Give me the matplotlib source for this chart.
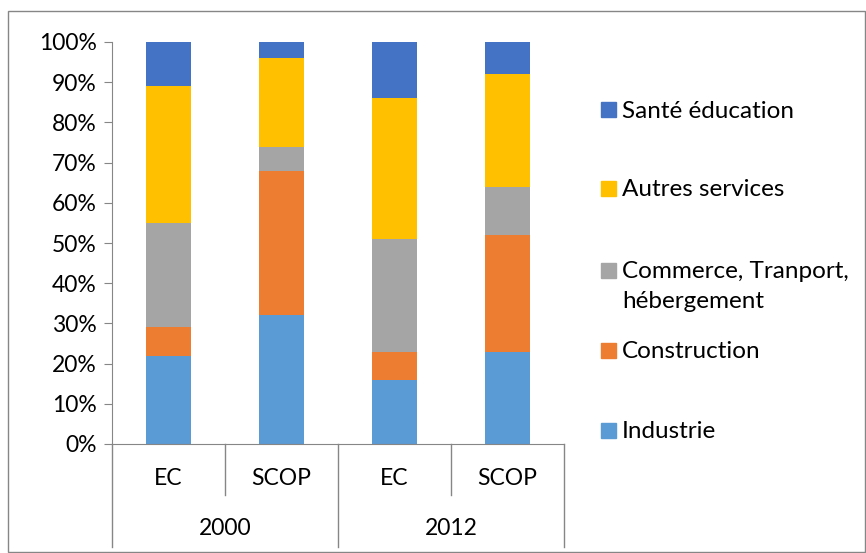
import matplotlib.pyplot as plt
from matplotlib.patches import Rectangle
import numpy as np

plt.rcParams['font.family'] = ['Lato', 'DejaVu Sans']

# data
years = ['2000', '2012']
groups = ['EC', 'SCOP', 'EC', 'SCOP']
sectors = ['Industrie', 'Construction', 'Commerce, Tranport,\nhébergement',
           'Autres services', 'Santé éducation']
industrie = [22, 32, 16, 23]
construction = [7, 36, 7, 29]
commerce = [26, 6, 28, 12]
autres = [34, 22, 35, 28]
sante = [11, 4, 14, 8]
colors = ['#5B9BD5', '#ED7D31', '#A5A5A5', '#FFC000', '#4472C4']

W, H = 866, 553
FS = 16.5
fig = plt.figure(figsize=(W / 100, H / 100), dpi=100)
ax = fig.add_axes([112 / W, (H - 444) / H, (564 - 112) / W, (444 - 42) / H])

series = [industrie, construction, commerce, autres, sante]
x = np.arange(len(groups))
bottom = np.zeros(len(groups))
for vals, col in zip(series, colors):
    ax.bar(x, vals, 0.39, bottom=bottom, color=col, zorder=2)
    bottom += np.array(vals)

ax.set_xlim(-0.5, 3.5)
ax.set_ylim(0, 100)
ax.set_yticks(np.arange(0, 101, 10))
ax.set_yticklabels([f'{v}%' for v in range(0, 101, 10)], fontsize=FS)
ax.tick_params(axis='y', length=6, color='#868686', pad=5)
ax.set_xticks([])
for s in ['top', 'right']:
    ax.spines[s].set_visible(False)
for s in ['left', 'bottom']:
    ax.spines[s].set_color('#868686')

# two-level category axis
tr = ax.get_xaxis_transform()
for xv in [-0.5, 1.5, 3.5]:
    ax.plot([xv, xv], [0, -0.256], transform=tr, color='#868686', lw=1, clip_on=False)
for xv in [0.5, 2.5]:
    ax.plot([xv, xv], [0, -0.127], transform=tr, color='#868686', lw=1, clip_on=False)
for i, g in enumerate(groups):
    ax.text(i, -0.085, g, transform=tr, ha='center', va='center', fontsize=FS)
for i, yr in enumerate(years):
    ax.text(2 * i + 0.5, -0.209, yr, transform=tr, ha='center', va='center', fontsize=FS)

# legend, top to bottom (y of first text line in px)
leg_y = [109, 188, 270, 350, 430]
for lab, col, yy in zip(sectors[::-1], colors[::-1], leg_y):
    fig.patches.append(Rectangle((601 / W, (H - yy - 7.5) / H), 15 / W, 15 / H,
                                 transform=fig.transFigure, color=col))
    lines = lab.split('\n')
    for k, line in enumerate(lines):
        fig.text(622 / W, (H - yy - 30 * k) / H, line, fontsize=17.5, va='center_baseline')

# outer frame
fig.patches.append(Rectangle((8 / W, 1 / H), (W - 9) / W, (H - 12) / H, transform=fig.transFigure,
                             fill=False, edgecolor='#868686', lw=1))

fig.savefig('out.png', dpi=100)
